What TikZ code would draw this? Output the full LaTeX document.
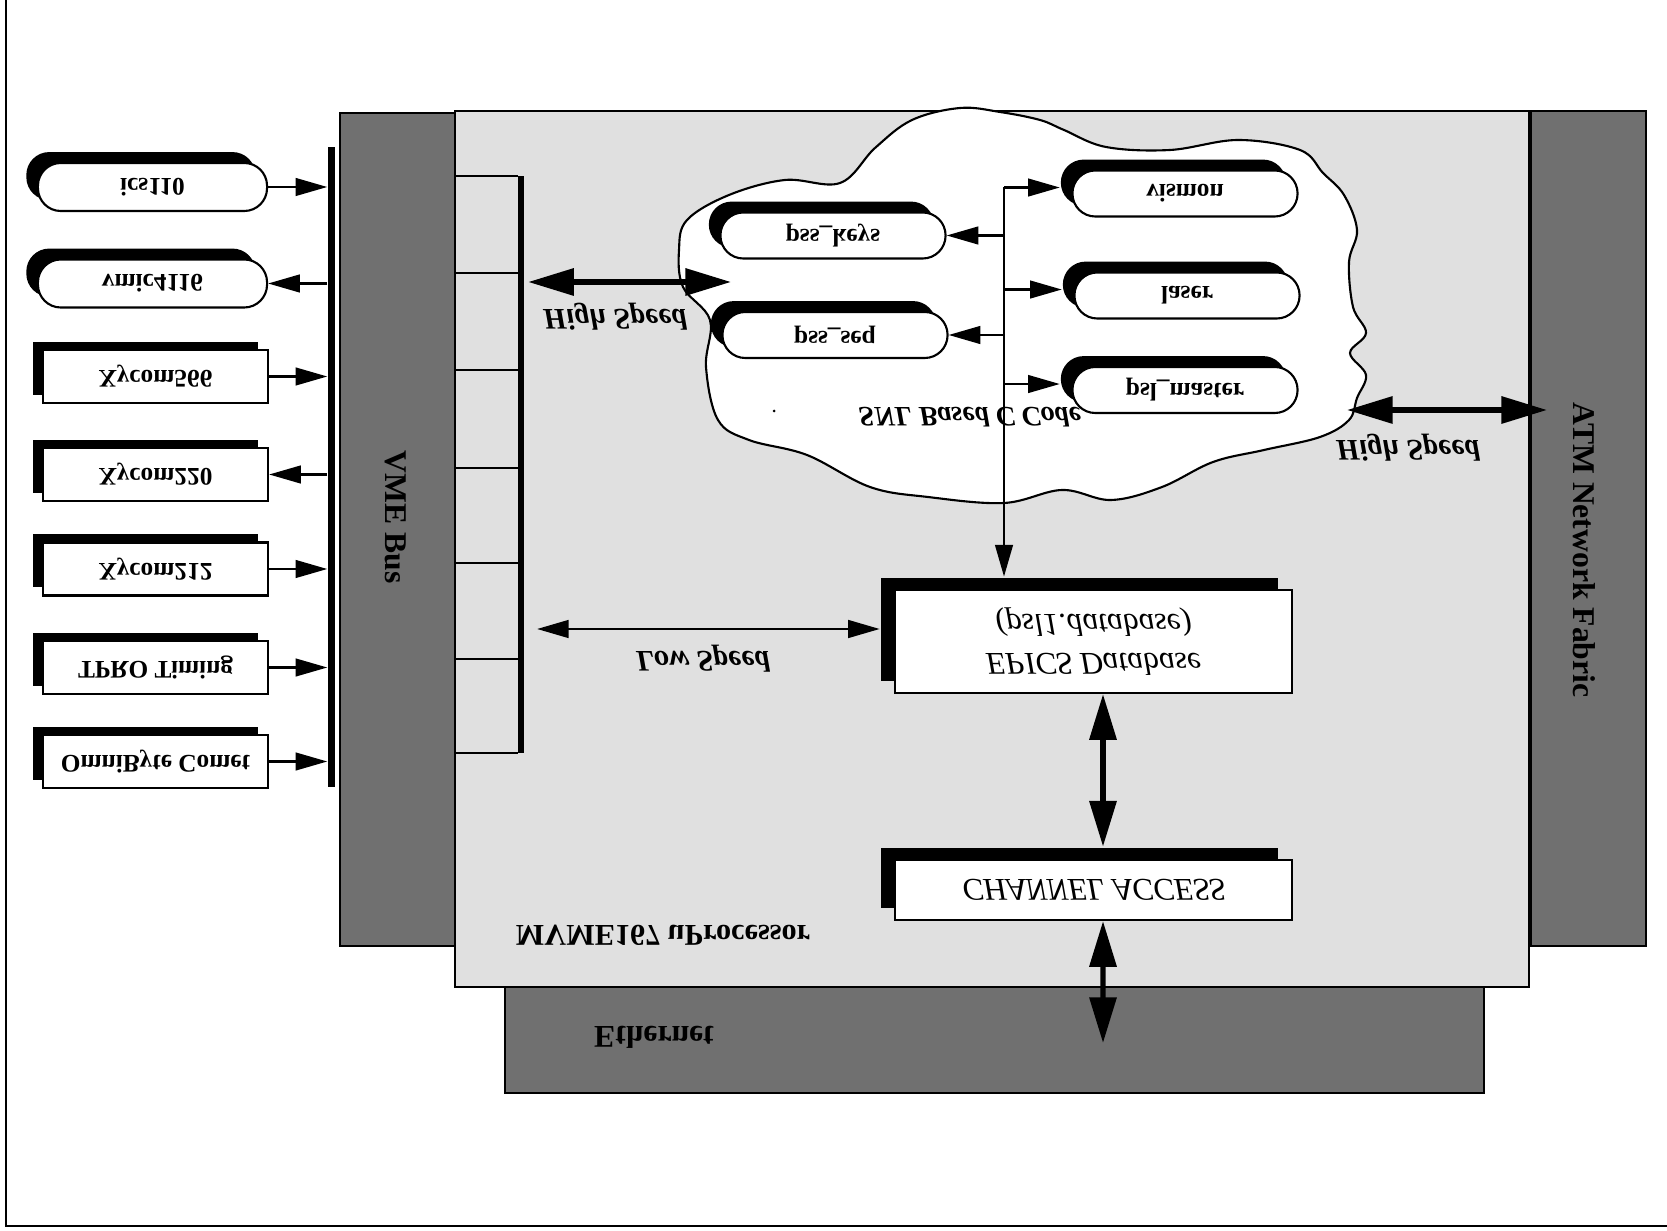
\documentclass[tikz,border=0pt]{standalone}
\usepackage{fontspec}
\setmainfont{Liberation Serif}
\usepackage{graphicx}
\usetikzlibrary{arrows.meta,shadows}
\newcommand{\capov}[1]{\scalebox{1}[-1]{#1}}
\definecolor{scuro}{RGB}{112,112,112}
\definecolor{chiaro}{RGB}{224,224,224}

\begin{document}
\begin{tikzpicture}[
    x=0.01cm, y=-0.01cm,
    scheda/.style={rectangle, draw=black, fill=white, line width=0.6pt, inner sep=0pt, minimum width=2.25cm, minimum height=0.53cm, font=\fontsize{7.2}{8.5}\selectfont\bfseries, general shadow={fill=black, shadow xshift=-2.8pt, shadow yshift=2.4pt}},
    processo/.style={rectangle, draw=black, fill=white, line width=0.6pt, inner sep=0pt, rounded corners=6.5pt, minimum width=2.25cm, minimum height=0.46cm, font=\fontsize{7.2}{8.5}\selectfont\bfseries, general shadow={fill=black, shadow xshift=-3.3pt, shadow yshift=3.1pt}},
    blocco/.style={rectangle, draw=black, fill=white, line width=0.6pt, inner sep=0pt, minimum width=3.97cm, font=\fontsize{9}{11}\selectfont\itshape, general shadow={fill=black, shadow xshift=-4pt, shadow yshift=3.5pt}},
    barra/.style={rectangle, fill=black, inner sep=0pt},
    colonna/.style={draw=black, line width=0.8pt, fill=scuro},
    freccia/.style={line width=0.7pt, -{Triangle[length=9pt,width=5pt]}},
    hs/.style={line width=1.5pt, {Triangle[length=13pt,width=7.5pt]}-{Triangle[length=13pt,width=7.5pt]}},
    ls/.style={line width=0.8pt, {Triangle[length=9pt,width=5pt]}-{Triangle[length=9pt,width=5pt]}},
    etichetta/.style={font=\fontsize{8.5}{10}\selectfont\bfseries\itshape},
    titolo/.style={font=\fontsize{9}{10}\selectfont\bfseries}
]
    \useasboundingbox (0,0) rectangle (1667,1231);

    % 1. Cornice
    \draw[line width=0.8pt] (6,0) -- (6,1226) -- (1667,1226);

    % 2. Blocchi di fondo (Ethernet, VME, ATM, scheda MVME167)
    \draw[colonna] (505,983) rectangle (1484,1093);
    \draw[colonna] (340,113) rectangle (455,946);
    \draw[colonna] (1531,111) rectangle (1646,946);
    \draw[fill=chiaro, line width=0.6pt] (455,111) rectangle (1529,987);

    \node[titolo, rotate=-90] (vmelab) at (396,517) {VME Bus};
    \node[titolo, rotate=-90] (atmlab) at (1584,550) {ATM Network Fabric};
    \node[titolo] (ethlab) at (654,1037) {\capov{Ethernet}};
    \node[titolo, font=\fontsize{8.6}{10}\selectfont\bfseries] (cpulab) at (663,935) {\capov{MVME167 uProcessor}};

    % 3. Bus e slot
    \node[barra, minimum width=0.07cm, minimum height=6.4cm] (vmebar) at (331.5,467) {};
    \node[barra, minimum width=0.06cm, minimum height=5.77cm] (slotbar) at (521,464.5) {};
    \foreach \y in {176,273,370,468,563,659,753}
        \draw[line width=0.6pt] (455,\y) -- (518,\y);

    % 4. Nuvola del codice SNL
    \draw[fill=white, line width=0.6pt] plot[smooth cycle, tension=0.6] coordinates {
        (679,250) (687,220) (729,195) (785,180) (840,183) (875,148) (912,120)
        (960,108) (1000,112) (1040,120) (1064,130) (1106,147) (1170,150)
        (1238,140) (1300,150) (1323,173) (1344,195) (1357,230) (1349,262)
        (1353,307) (1366,333) (1350,353) (1366,375) (1357,398) (1349,420)
        (1320,437) (1264,450) (1213,462) (1162,487) (1111,500) (1062,490)
        (1004,503) (928,497) (870,487) (807,455) (749,440) (718,420)
        (706,367) (710,320) (683,287)};
    \fill (774,411) circle (1.5);
    \node[etichetta, font=\fontsize{8}{10}\selectfont\bfseries\itshape] (snl) at (970,417) {\capov{SNL Based C Code}};

    % 5. Schede sul bus VME
    \node[processo, minimum width=2.29cm, minimum height=0.48cm] (ics110) at (152.5,187) {\capov{ics110}};
    \node[processo, minimum width=2.29cm, minimum height=0.48cm] (vmic4116) at (152.5,283.5) {\capov{vmic4116}};
    \node[scheda] (xycom566) at (155.5,376.5) {\capov{Xycom566}};
    \node[scheda] (xycom220) at (155.5,474.5) {\capov{Xycom220}};
    \node[scheda] (xycom212) at (155.5,569) {\capov{Xycom212}};
    \node[scheda] (tpro) at (155.5,667.5) {\capov{TPRO Timing}};
    \node[scheda] (omnibyte) at (155.5,761.5) {\capov{OmniByte Comet}};

    % 6. Processi SNL
    \node[processo] (psskeys) at (833,235.5) {\capov{pss\_keys}};
    \node[processo] (pssseq) at (835,335) {\capov{pss\_seq}};
    \node[processo] (vismon) at (1185,193.5) {\capov{vismon}};
    \node[processo] (laser) at (1187,295.5) {\capov{laser}};
    \node[processo] (pslmaster) at (1185,390) {\capov{psl\_master}};

    % 7. Database e Channel Access
    \node[blocco, minimum height=1.03cm] (epics) at (1093.5,641.5)
        {\capov{\begin{tabular}{@{}c@{}}EPICS Database\\(psl1.database)\end{tabular}}};
    \node[blocco, minimum height=0.6cm] (ca) at (1093.5,890) {\capov{CHANNEL ACCESS}};

    % 8. Collegamenti
    \foreach \n in {ics110, xycom566, xycom212, tpro, omnibyte}
        \draw[freccia] (\n.east) -- (\n.east -| vmebar.west);
    \foreach \n in {vmic4116, xycom220}
        \draw[freccia] (\n.east -| vmebar.west) -- (\n.east);

    \coordinate (tronco) at (1004,187.5);
    \draw[freccia] (tronco) -- ([yshift=3.5pt]tronco |- epics.north);
    \foreach \n in {vismon, laser, pslmaster}
        \draw[freccia] ([yshift=1.7pt]tronco |- \n.west) -- ([xshift=-3.3pt,yshift=1.7pt]\n.west);
    \foreach \n in {psskeys, pssseq}
        \draw[freccia] (tronco |- \n.east) -- (\n.east);

    \coordinate (hsA) at (731,282);
    \draw[hs] ([xshift=1pt]slotbar.east |- hsA) -- (hsA);
    \node[etichetta] (hslab1) at (615,317) {\capov{High Speed}};

    \coordinate (atmA) at (1347,410);
    \coordinate (atmB) at (1547,410);
    \draw[hs] (atmA) -- (atmB);
    \node[etichetta] (hslab2) at (1408,448) {\capov{High Speed}};

    \coordinate (lsA) at (537,629);
    \draw[ls] (lsA) -- ([xshift=-4pt]epics.west |- lsA);
    \node[etichetta] (lslab) at (703,659) {\capov{Low Speed}};

    \coordinate (eth) at (1103,1043);
    \draw[hs] ([xshift=2.7pt]epics.south) -- ([xshift=2.7pt,yshift=3.5pt]ca.north);
    \draw[hs] ([xshift=2.7pt]ca.south) -- (eth);

\end{tikzpicture}
\end{document}
